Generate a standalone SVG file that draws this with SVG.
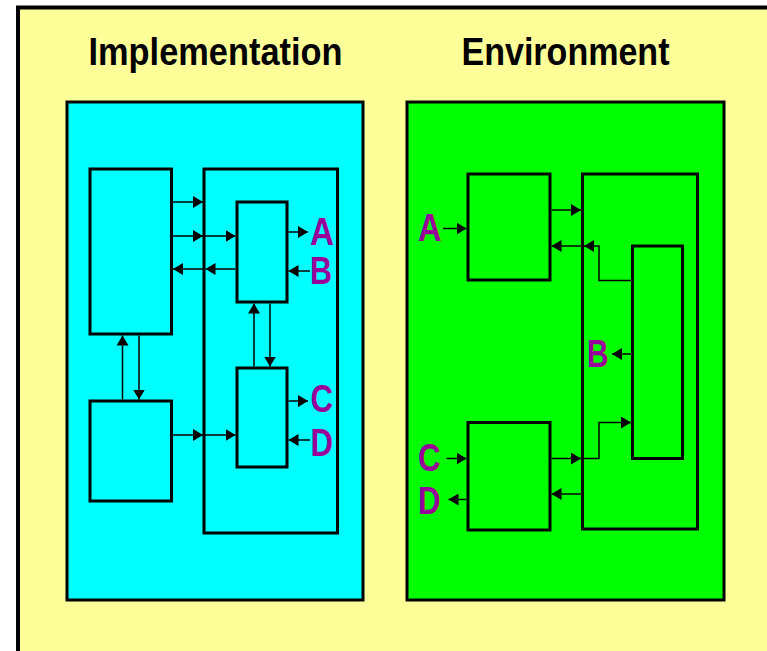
<svg xmlns="http://www.w3.org/2000/svg" width="767" height="651" viewBox="0 0 767 651">
  <style>
    .panel { stroke: #000; stroke-width: 3; }
    .blk { fill: none; stroke: #000; stroke-width: 3; }
    .impl .blk { fill: #00FFFF; }
    .env .blk { fill: #00FF00; }
    .wire { fill: none; stroke: #000; stroke-width: 1.5; marker-end: url(#head); }
    .title { font-family: "Liberation Sans", Arial, sans-serif; font-weight: bold; font-size: 39px; fill: #000; }
    .port { font-family: "Liberation Sans", Arial, sans-serif; font-weight: bold; font-size: 39px; fill: #990099; }
  </style>
  <defs>
    <marker id="head" markerUnits="userSpaceOnUse" markerWidth="11" markerHeight="12" refX="10" refY="6" orient="auto">
      <path d="M0,0 L10,6 L0,12 z" fill="#000"/>
    </marker>
  </defs>

  <!-- page -->
  <rect x="0" y="0" width="767" height="651" fill="#FFFFFF"/>
  <rect x="18" y="7.5" width="760" height="660" fill="#FFFF99" stroke="#000" stroke-width="4"/>

  <!-- headings -->
  <text class="title" x="215.5" y="65" text-anchor="middle" textLength="254" lengthAdjust="spacingAndGlyphs">Implementation</text>
  <text class="title" x="565.5" y="65" text-anchor="middle" textLength="208" lengthAdjust="spacingAndGlyphs">Environment</text>

  <!-- implementation side -->
  <g id="implementation" class="impl">
    <rect class="panel" x="67" y="102" width="296" height="498" fill="#00FFFF"/>
  </g>
  <g id="impl-left-top" class="impl"><rect class="blk" x="90" y="169" width="81.5" height="165"/></g>
  <g id="impl-left-bottom" class="impl"><rect class="blk" x="90" y="401" width="81.5" height="100"/></g>
  <g id="impl-container" class="impl"><rect class="blk" x="204" y="169" width="133.5" height="364"/></g>
  <g id="impl-unit-top" class="impl"><rect class="blk" x="237" y="202" width="50" height="100"/></g>
  <g id="impl-unit-bottom" class="impl"><rect class="blk" x="237" y="368" width="50" height="99"/></g>

  <!-- environment side -->
  <g id="environment" class="env">
    <rect class="panel" x="407" y="102" width="317" height="498" fill="#00FF00"/>
  </g>
  <g id="env-left-top" class="env"><rect class="blk" x="468" y="174" width="82" height="106"/></g>
  <g id="env-left-bottom" class="env"><rect class="blk" x="468" y="422.5" width="82" height="107.5"/></g>
  <g id="env-container" class="env"><rect class="blk" x="582.5" y="174" width="115" height="355"/></g>
  <g id="env-unit" class="env"><rect class="blk" x="632.5" y="246" width="50" height="212.5"/></g>

  <!-- connectors -->
  <g id="connectors">
    <!-- implementation -->
    <path class="wire" d="M173,202 H203"/>
    <path class="wire" d="M173,236 H203"/>
    <path class="wire" d="M205,236 H235.5"/>
    <path class="wire" d="M235.5,269 H205.5"/>
    <path class="wire" d="M203,269 H173"/>
    <path class="wire" d="M288.5,232 H308"/>
    <path class="wire" d="M310,271 H288.5"/>
    <path class="wire" d="M122.5,399.5 V335.5"/>
    <path class="wire" d="M139,335.5 V399.5"/>
    <path class="wire" d="M254,366.5 V303.5"/>
    <path class="wire" d="M270,303.5 V366.5"/>
    <path class="wire" d="M173,435 H203"/>
    <path class="wire" d="M205,435 H235.5"/>
    <path class="wire" d="M288.5,401 H308"/>
    <path class="wire" d="M310,440 H288.5"/>

    <!-- environment -->
    <path class="wire" d="M443,228.5 H466.5"/>
    <path class="wire" d="M551.5,210 H581"/>
    <path class="wire" d="M631,280.5 H599 V246 H584"/>
    <path class="wire" d="M581,246 H551.5"/>
    <path class="wire" d="M631,354 H612"/>
    <path class="wire" d="M551.5,458.5 H581"/>
    <path class="wire" d="M584,458.5 H599 V422.5 H631"/>
    <path class="wire" d="M581,494 H551.5"/>
    <path class="wire" d="M446.5,458.5 H466.5"/>
    <path class="wire" d="M466.5,499.5 H448.5"/>
  </g>

  <!-- port labels -->
  <text class="port" x="310" y="245" textLength="24" lengthAdjust="spacingAndGlyphs">A</text>
  <text class="port" x="310" y="283.5" textLength="22" lengthAdjust="spacingAndGlyphs">B</text>
  <text class="port" x="310.5" y="411.5" textLength="22.5" lengthAdjust="spacingAndGlyphs">C</text>
  <text class="port" x="310.5" y="455.5" textLength="22.5" lengthAdjust="spacingAndGlyphs">D</text>

  <text class="port" x="418" y="241" textLength="23.5" lengthAdjust="spacingAndGlyphs">A</text>
  <text class="port" x="587" y="367" textLength="21.5" lengthAdjust="spacingAndGlyphs">B</text>
  <text class="port" x="418" y="470.5" textLength="22.5" lengthAdjust="spacingAndGlyphs">C</text>
  <text class="port" x="418" y="514" textLength="22.5" lengthAdjust="spacingAndGlyphs">D</text>
</svg>
